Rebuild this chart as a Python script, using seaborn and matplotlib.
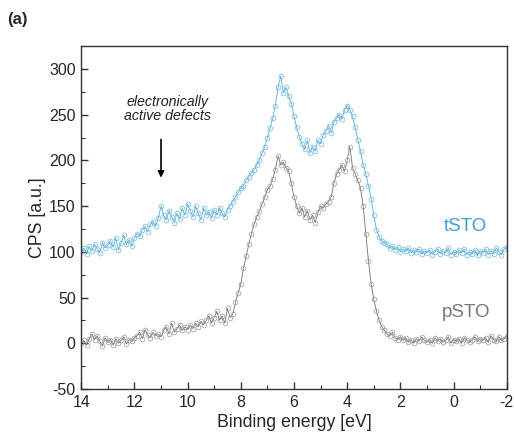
import numpy as np
import pandas as pd
import matplotlib
matplotlib.use("Agg")
import matplotlib.pyplot as plt
import seaborn as sns

# Binding energy grid (eV), 14.0 down to -2.0
energy = [round(14.0 - 0.1 * i, 1) for i in range(161)]

tsto = [
    100, 104, 98, 106, 101, 108, 103, 99, 110, 104, 107,
    112, 105, 115, 102, 110, 118, 108, 113, 106, 115,
    120, 117, 124, 128, 122, 130, 133, 128, 137, 150,
    140, 135, 145, 138, 132, 142, 136, 148, 140, 152,
    145, 138, 150, 142, 135, 148, 140, 144, 137, 146,
    140, 148, 142, 138, 146, 150, 155, 160, 165, 170,
    172, 178, 182, 186, 190, 195, 200, 208, 215, 225,
    235, 246, 260, 280, 292, 274, 280, 270, 262, 248,
    236, 226, 218, 212, 222, 208, 215, 210, 222, 218,
    228, 232, 238, 230, 242, 246, 250, 245, 255, 260,
    255, 248, 236, 222, 210, 195, 185, 172, 158, 140,
    124, 116, 112, 110, 108, 104, 106, 102, 105, 100,
    103, 101, 104, 99, 102, 100, 103, 98, 101, 99,
    102, 97, 100, 103, 98, 101, 99, 104, 97, 100,
    98, 102, 99, 103, 97, 100, 98, 102, 96, 101,
    99, 103, 97, 101, 98, 104, 100, 97, 103, 105,
]

psto = [
    0, 3, -2, 5, 10, 4, 8, 2, -3, 6, 1,
    4, -2, 5, 0, 3, 7, -1, 4, 2, 6,
    8, 12, 5, 15, 9, 6, 12, 8, 10, 7,
    14, 18, 10, 22, 12, 16, 20, 14, 18, 15,
    20, 16, 22, 18, 24, 20, 25, 30, 22, 28,
    35, 25, 30, 22, 38, 28, 32, 45, 55, 65,
    82, 95, 108, 120, 130, 138, 145, 152, 160, 168,
    172, 180, 190, 205, 195, 198, 192, 188, 175, 160,
    150, 142, 148, 138, 145, 135, 140, 132, 143, 150,
    148, 152, 155, 160, 175, 185, 190, 195, 188, 200,
    215, 192, 185, 178, 170, 150, 120, 90, 65, 48,
    35, 25, 18, 14, 10, 8, 12, 6, 4, 7,
    3, 6, 1, 4, 0, 5, 2, 7, 3, 1,
    4, 0, 6, 2, 5, 1, 3, 7, 0, 4,
    2, 5, 0, 6, 3, 1, 4, 7, 2, 5,
    3, 6, 1, 8, 4, 2, 7, 3, 5, 8,
]

x_ticks = [14, 12, 10, 8, 6, 4, 2, 0, -2]
y_ticks = [-50, 0, 50, 100, 150, 200, 250, 300]

sns.set_theme(style="white")
plt.rcParams['font.family'] = ['Liberation Sans', 'DejaVu Sans']

fig = plt.figure(figsize=(5.14, 4.43), dpi=100)
ax = fig.add_axes([0.158, 0.122, 0.828, 0.774])

blue = "#3d9fd3"
grey = "#5a5a5a"

sns.lineplot(x=energy, y=tsto, ax=ax, color=blue, linewidth=0.6, alpha=0.85,
             marker='o', markersize=3.4, markerfacecolor='none',
             markeredgecolor="#6bb8e0", markeredgewidth=0.6, sort=False)
sns.lineplot(x=energy, y=psto, ax=ax, color=grey, linewidth=0.6, alpha=0.85,
             marker='o', markersize=3.4, markerfacecolor='none',
             markeredgecolor="#999999", markeredgewidth=0.6, sort=False)

ax.set_xlim(14, -2)
ax.set_ylim(-50, 325)
ax.set_xticks(x_ticks)
ax.set_yticks(y_ticks)
ax.set_xticklabels([str(v) for v in x_ticks])
ax.set_yticklabels([str(v) for v in y_ticks])
ax.xaxis.set_minor_locator(matplotlib.ticker.MultipleLocator(1))
ax.yaxis.set_minor_locator(matplotlib.ticker.MultipleLocator(25))
ax.tick_params(axis='both', which='major', direction='in', length=5, width=1,
               color='#333333', labelsize=11.5, pad=4, bottom=True, left=True)
ax.tick_params(axis='both', which='minor', direction='in', length=3, width=0.8,
               color='#333333', bottom=True, left=True)
for s in ax.spines.values():
    s.set_color('#333333')
    s.set_linewidth(1.0)

ax.set_xlabel("Binding energy [eV]", fontsize=12.8, labelpad=3)
ax.set_ylabel("CPS [a.u.]", fontsize=12.8, labelpad=2)

ax.text(-0.45, 128, "tSTO", color=blue, fontsize=13.5, ha='center', va='center')
ax.text(-0.45, 34, "pSTO", color="#777777", fontsize=13.5, ha='center', va='center')
ax.text(10.75, 256, "electronically\nactive defects", fontsize=10.3, style='italic',
        ha='center', va='center', color='#222222', linespacing=1.05)
ax.annotate("", xy=(11.0, 178), xytext=(11.0, 226),
            arrowprops=dict(arrowstyle='-|>', color='black', lw=1.2,
                            mutation_scale=9))

fig.text(0.014, 0.955, "(a)", fontsize=12, fontweight='bold', ha='left', va='center')

fig.savefig("out.png", dpi=100)
